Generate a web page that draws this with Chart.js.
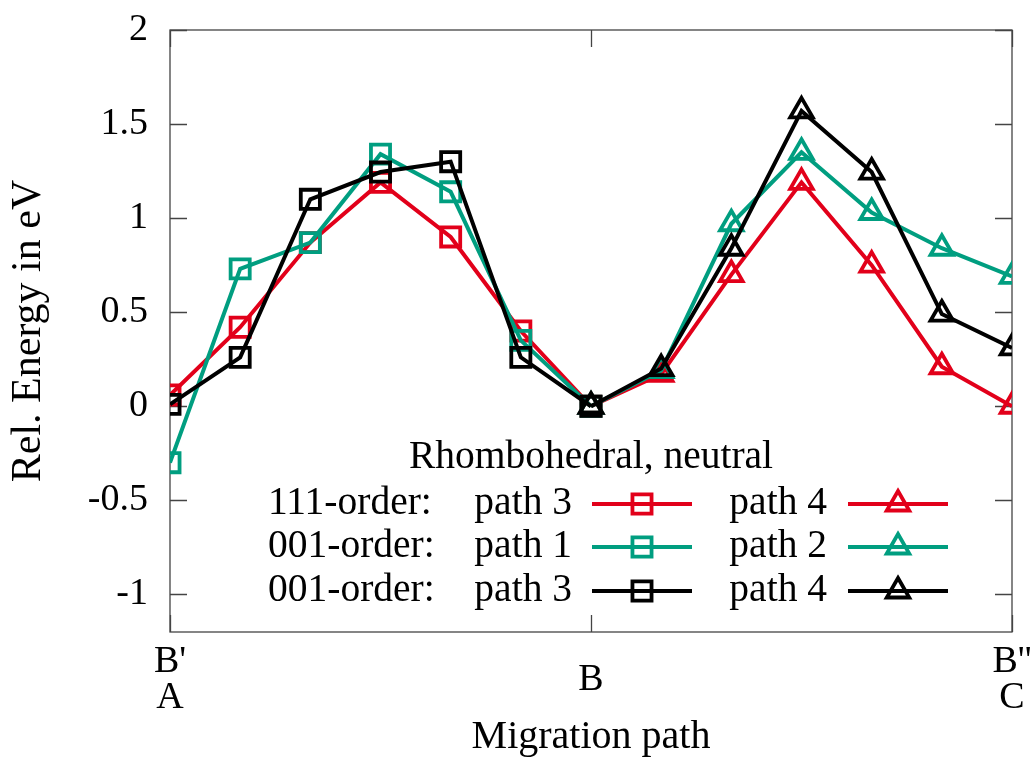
<!DOCTYPE html>
<html>
<head>
<meta charset="utf-8">
<script src="https://cdn.jsdelivr.net/npm/chart.js@4"></script>
<style>
  html, body { margin: 0; padding: 0; background: #fff; }
  #wrap { width: 1033px; height: 761px; }
</style>
</head>
<body>
<div id="wrap"><canvas id="chart" width="1033" height="761"></canvas></div>
<script>
// positions along the migration path (B' ... B ... B'')
const xLeft = [0, 1, 2, 3, 4, 5, 6];
const xRight = [6, 7, 8, 9, 10, 11, 12];

// relative energies in eV
const order111Path3 = [0.06, 0.42, 0.87, 1.19, 0.90, 0.40, 0.00];
const order111Path4 = [0.00, 0.17, 0.70, 1.19, 0.75, 0.21, 0.00];
const order001Path1 = [-0.30, 0.73, 0.87, 1.34, 1.14, 0.35, 0.00];
const order001Path2 = [0.00, 0.19, 0.97, 1.35, 1.03, 0.84, 0.69];
const order001Path3 = [0.01, 0.26, 1.10, 1.245, 1.30, 0.26, 0.00];
const order001Path4 = [0.00, 0.20, 0.84, 1.57, 1.245, 0.49, 0.31];

const xTickValues = [0, 6, 12];
const xTickLabels = [["B'", "A"], ["B"], ["B''", "C"]];
const yTickValues = [-1, -0.5, 0, 0.5, 1, 1.5, 2];
const yTickLabels = ["-1", "-0.5", "0", "0.5", "1", "1.5", "2"];

const legendTitle = "Rhombohedral, neutral";
const legendRowLabels = ["111-order:", "001-order:", "001-order:"];

const RED = "#e2001a";
const GREEN = "#009e80";
const BLACK = "#000000";
const FONT = "'Liberation Serif', 'Times New Roman', serif";

// row/col only used by the key drawn below
const series = [
  { label: "path 3", xs: xLeft, ys: order111Path3, color: RED, style: "rect", row: 0, col: 0, order: 2 },
  { label: "path 4", xs: xRight, ys: order111Path4, color: RED, style: "triangle", row: 0, col: 1, order: 2 },
  { label: "path 1", xs: xLeft, ys: order001Path1, color: GREEN, style: "rect", row: 1, col: 0, order: 1 },
  { label: "path 2", xs: xRight, ys: order001Path2, color: GREEN, style: "triangle", row: 1, col: 1, order: 1 },
  { label: "path 3", xs: xLeft, ys: order001Path3, color: BLACK, style: "rect", row: 2, col: 0, order: 0 },
  { label: "path 4", xs: xRight, ys: order001Path4, color: BLACK, style: "triangle", row: 2, col: 1, order: 0 },
];

const datasets = series.map(s => ({
  label: s.label,
  data: s.xs.map((x, i) => ({ x: x, y: s.ys[i] })),
  borderColor: s.color,
  borderWidth: 4,
  pointStyle: s.style,
  pointRadius: s.style === "rect" ? 13.5 : 13,
  pointBorderWidth: 3.8,
  pointBorderColor: s.color,
  pointBackgroundColor: "rgba(0,0,0,0)",
  order: s.order,
  tension: 0,
}));

// gnuplot-like frame with tics pointing inwards
const framePlugin = {
  id: "frame",
  beforeDatasetsDraw(chart) {
    const { ctx, chartArea: a, scales } = chart;
    const tl = 17;
    ctx.save();
    ctx.strokeStyle = "#444";
    ctx.lineWidth = 1.3;
    ctx.strokeRect(a.left, a.top, a.right - a.left, a.bottom - a.top);
    ctx.beginPath();
    yTickValues.forEach(v => {
      const y = Math.round(scales.y.getPixelForValue(v)) + 0.5;
      ctx.moveTo(a.left, y); ctx.lineTo(a.left + tl, y);
      ctx.moveTo(a.right, y); ctx.lineTo(a.right - tl, y);
    });
    xTickValues.forEach(v => {
      const x = Math.round(scales.x.getPixelForValue(v)) + 0.5;
      ctx.moveTo(x, a.bottom); ctx.lineTo(x, a.bottom - tl);
      ctx.moveTo(x, a.top); ctx.lineTo(x, a.top + tl);
    });
    ctx.stroke();
    ctx.restore();
  },
};

// key: title line plus rows of "<order>: <path> sample"
const keyPlugin = {
  id: "key",
  afterDatasetsDraw(chart) {
    const { ctx } = chart;
    const rowY = [504, 547, 591];
    const textRight = [572, 827];
    const sampleLeft = [592, 848];
    const sampleLen = 100;
    ctx.save();
    ctx.font = "39.5px " + FONT;
    ctx.fillStyle = "#000";
    ctx.textBaseline = "middle";
    ctx.textAlign = "center";
    ctx.fillText(legendTitle, 591, 458);
    ctx.textAlign = "left";
    legendRowLabels.forEach((t, r) => ctx.fillText(t, 268, rowY[r]));
    series.forEach((s, i) => {
      const y = rowY[s.row];
      ctx.fillStyle = "#000";
      ctx.textAlign = "right";
      ctx.fillText(s.label, textRight[s.col], y);
      const x0 = sampleLeft[s.col];
      ctx.strokeStyle = s.color;
      ctx.lineWidth = 4;
      ctx.beginPath();
      ctx.moveTo(x0, y);
      ctx.lineTo(x0 + sampleLen, y);
      ctx.stroke();
      const ds = chart.data.datasets[i];
      ctx.fillStyle = "rgba(0,0,0,0)";
      ctx.lineWidth = ds.pointBorderWidth;
      Chart.helpers.drawPoint(ctx, {
        pointStyle: ds.pointStyle,
        radius: ds.pointRadius,
        borderWidth: ds.pointBorderWidth,
        rotation: 0,
      }, x0 + sampleLen / 2, y);
    });
    ctx.restore();
  },
};

Chart.defaults.font.family = FONT;
Chart.defaults.font.size = 38;
Chart.defaults.color = "#000";

new Chart(document.getElementById("chart"), {
  type: "line",
  data: { datasets: datasets },
  options: {
    responsive: false,
    animation: false,
    devicePixelRatio: 1,
    layout: { padding: { left: 0, top: 30, right: 21, bottom: 0 } },
    plugins: {
      legend: { display: false },
      tooltip: { enabled: false },
    },
    scales: {
      x: {
        type: "linear",
        min: 0,
        max: 12,
        afterBuildTicks: s => { s.ticks = xTickValues.map(v => ({ value: v })); },
        afterFit: s => { s.height = 129; s.paddingLeft = 0; s.paddingRight = 0; },
        grid: { display: false, drawTicks: false },
        border: { display: false },
        ticks: {
          padding: 30,
          maxRotation: 0,
          autoSkip: false,
          crossAlign: "center",
          font: { size: 38, lineHeight: 0.95 },
          callback: v => xTickLabels[xTickValues.indexOf(v)],
        },
        title: {
          display: true,
          text: "Migration path",
          font: { size: 40, lineHeight: 1.2 },
          padding: { top: 0, bottom: 0 },
        },
      },
      y: {
        type: "linear",
        min: -1.2,
        max: 2,
        afterBuildTicks: s => { s.ticks = yTickValues.map(v => ({ value: v })); },
        afterFit: s => { s.width = 170; s.paddingTop = 0; s.paddingBottom = 0; },
        grid: { display: false, drawTicks: false },
        border: { display: false },
        ticks: {
          padding: 22,
          autoSkip: false,
          callback: v => yTickLabels[yTickValues.indexOf(v)],
        },
        title: {
          display: true,
          text: "Rel. Energy in eV",
          font: { size: 42, lineHeight: 1.2 },
          padding: { top: 4, bottom: 0 },
        },
      },
    },
  },
  plugins: [framePlugin, keyPlugin],
});
</script>
</body>
</html>
